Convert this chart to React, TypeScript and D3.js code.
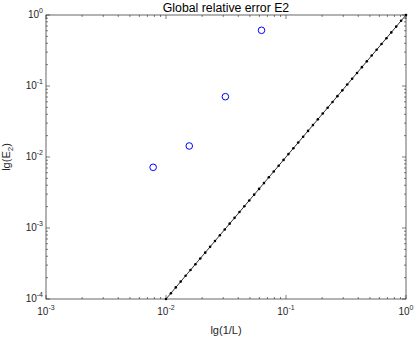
import React, { useEffect, useRef } from 'react';
import * as d3 from 'd3';

// measured errors (blue circles)
const errX = [0.0078125, 0.015625, 0.03125, 0.0625];
const errY = [0.00716, 0.01429, 0.0707, 0.609];

// reference line, slope 2 (black dotted line)
const refX = [
  0.01, 0.010985, 0.012068, 0.013257, 0.014563, 0.015999, 0.017575, 0.019307, 0.02121, 0.0233,
  0.025595, 0.028118, 0.030888, 0.033932, 0.037276, 0.040949, 0.044984, 0.049417, 0.054287, 0.059636,
  0.065513, 0.071969, 0.07906, 0.086851, 0.09541, 0.10481, 0.11514, 0.12649, 0.13895, 0.15264,
  0.16768, 0.18421, 0.20236, 0.2223, 0.24421, 0.26827, 0.29471, 0.32375, 0.35565, 0.3907,
  0.42919, 0.47149, 0.51795, 0.56899, 0.62506, 0.68665, 0.75431, 0.82864, 0.9103, 1,
];
const refY = [
  1e-4, 1.2068e-4, 1.4563e-4, 1.7575e-4, 2.121e-4, 2.5595e-4, 3.0888e-4, 3.7276e-4, 4.4984e-4, 5.4287e-4,
  6.5513e-4, 7.906e-4, 9.541e-4, 1.1514e-3, 1.3895e-3, 1.6768e-3, 2.0236e-3, 2.4421e-3, 2.9471e-3, 3.5565e-3,
  4.2919e-3, 5.1795e-3, 6.2506e-3, 7.5431e-3, 9.103e-3, 1.0985e-2, 1.3257e-2, 1.5999e-2, 1.9307e-2, 2.33e-2,
  2.8118e-2, 3.3932e-2, 4.0949e-2, 4.9417e-2, 5.9636e-2, 7.1969e-2, 8.6851e-2, 0.10481, 0.12649, 0.15264,
  0.18421, 0.2223, 0.26827, 0.32375, 0.3907, 0.47149, 0.56899, 0.68665, 0.82864, 1,
];

const xMajor = [-3, -2, -1, 0];
const yMajor = [-4, -3, -2, -1, 0];

const W = 415;
const H = 339;
const FONT = '"Liberation Sans", Arial, Helvetica, sans-serif';

export default function App() {
  const svgRef = useRef<SVGSVGElement>(null);

  useEffect(() => {
    const svg = d3.select(svgRef.current);
    svg.selectAll('*').remove();

    const margin = { top: 15, right: 9, bottom: 40, left: 46 };
    const x0 = margin.left, x1 = W - margin.right;
    const y0 = margin.top, y1 = H - margin.bottom;

    const x = d3.scaleLog().domain([1e-3, 1]).range([x0, x1]);
    const y = d3.scaleLog().domain([1e-4, 1]).range([y1, y0]);

    svg.append('rect').attr('width', W).attr('height', H).attr('fill', '#fff');

    // ticks (inside, all four sides)
    const ticks = svg.append('g').attr('stroke', '#262626').attr('stroke-width', 0.6);
    const minors = (lo: number, hi: number) => {
      const out: { v: number; major: boolean }[] = [];
      for (let e = lo; e <= hi; e++) {
        out.push({ v: Math.pow(10, e), major: true });
        if (e < hi) for (let m = 2; m <= 9; m++) out.push({ v: m * Math.pow(10, e), major: false });
      }
      return out;
    };
    minors(-3, 0).forEach(t => {
      const px = x(t.v);
      const len = t.major ? 4 : 2;
      ticks.append('line').attr('x1', px).attr('x2', px).attr('y1', y1).attr('y2', y1 - len);
      ticks.append('line').attr('x1', px).attr('x2', px).attr('y1', y0).attr('y2', y0 + len);
    });
    minors(-4, 0).forEach(t => {
      const py = y(t.v);
      const len = t.major ? 4 : 2;
      ticks.append('line').attr('x1', x0).attr('x2', x0 + len).attr('y1', py).attr('y2', py);
      ticks.append('line').attr('x1', x1).attr('x2', x1 - len).attr('y1', py).attr('y2', py);
    });

    // box
    svg.append('rect')
      .attr('x', x0).attr('y', y0)
      .attr('width', x1 - x0).attr('height', y1 - y0)
      .attr('fill', 'none').attr('stroke', '#262626').attr('stroke-width', 0.7);

    // tick labels
    const lab = svg.append('g').attr('font-family', FONT).attr('fill', '#262626').attr('font-size', 10);
    xMajor.forEach(e => {
      const t = lab.append('text')
        .attr('x', x(Math.pow(10, e))).attr('y', y1 + 16)
        .attr('text-anchor', 'middle');
      t.append('tspan').text('10');
      t.append('tspan').attr('dy', -5).attr('font-size', 7).text(String(e));
    });
    yMajor.forEach(e => {
      const t = lab.append('text')
        .attr('x', x0 - 3).attr('y', y(Math.pow(10, e)) + 3)
        .attr('text-anchor', 'end');
      t.append('tspan').text('10');
      t.append('tspan').attr('dy', -5).attr('font-size', 7).text(String(e));
    });

    // axis labels and title
    svg.append('text')
      .attr('x', (x0 + x1) / 2).attr('y', 334)
      .attr('text-anchor', 'middle')
      .attr('font-family', FONT).attr('font-size', 11).attr('fill', '#262626')
      .text('lg(1/L)');

    const yl = svg.append('text')
      .attr('transform', `translate(10, ${(y0 + y1) / 2}) rotate(-90)`)
      .attr('text-anchor', 'middle')
      .attr('font-family', FONT).attr('font-size', 11).attr('fill', '#262626');
    yl.append('tspan').text('lg(E');
    yl.append('tspan').attr('dy', 3).attr('font-size', 8).text('2');
    yl.append('tspan').attr('dy', -3).text(')');

    svg.append('text')
      .attr('x', (x0 + x1) / 2).attr('y', 11.5)
      .attr('text-anchor', 'middle')
      .attr('font-family', FONT).attr('font-size', 12.3).attr('fill', '#000')
      .text('Global relative error E2');

    // reference line with dot markers
    const ref = refX.map((v, i) => [v, refY[i]] as [number, number]);
    const line = d3.line<[number, number]>().x(d => x(d[0])).y(d => y(d[1]));
    svg.append('path')
      .attr('d', line(ref))
      .attr('fill', 'none').attr('stroke', '#000').attr('stroke-width', 0.8);
    svg.append('g').selectAll('circle')
      .data(ref).join('circle')
      .attr('cx', d => x(d[0])).attr('cy', d => y(d[1]))
      .attr('r', 1.3).attr('fill', '#000');

    // error points
    svg.append('g').selectAll('circle')
      .data(errX.map((v, i) => [v, errY[i]]))
      .join('circle')
      .attr('cx', d => x(d[0])).attr('cy', d => y(d[1]))
      .attr('r', 3.3).attr('fill', 'none').attr('stroke', '#0000ff').attr('stroke-width', 1);
  }, []);

  return (
    <svg ref={svgRef} width={W} height={H} style={{ position: 'absolute', left: 0, top: 0 }} />
  );
}
